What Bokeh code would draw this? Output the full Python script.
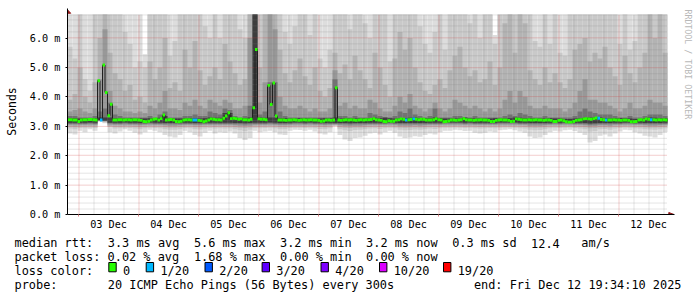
import re
import math
from bokeh.plotting import figure
from bokeh.layouts import column, row
from bokeh.models import ColumnDataSource, FixedTicker, CustomJSTickFormatter, Range1d
from bokeh.core.properties import value
from bokeh.embed import file_html
from bokeh.resources import INLINE

# ------------------------------------------------------------------ data
# time axis in hours since Tue Dec 2 19:34:10 2025 (graph end: Fri Dec 12 19:34:10 2025)
HOURS_SPAN = 240
FIRST_MIDNIGHT_H = 4 + 25 / 60 + 50 / 3600          # Wed Dec 3 00:00
DAY_LABELS = ["03 Dec", "04 Dec", "05 Dec", "06 Dec", "07 Dec",
              "08 Dec", "09 Dec", "10 Dec", "11 Dec", "12 Dec"]
Y_TICKS = [0, 1, 2, 3, 4, 5, 6]                    # milliseconds
Y_TOP = 6.8

# hourly median rtt (ms)
MEDIAN_MS = [
    3.22, 3.22, 3.21, 3.21, 3.16, 3.21, 3.22, 3.22, 3.23, 3.23, 3.22, 3.21, 4.55, 3.21, 5.08, 4.15, 3.36, 3.75, 3.21, 3.21, 3.22, 3.22, 3.21, 3.22,
    3.22, 3.21, 3.22, 3.22, 3.21, 3.20, 3.16, 3.15, 3.17, 3.21, 3.24, 3.25, 3.21, 3.26, 3.38, 3.21, 3.22, 3.23, 3.21, 3.16, 3.15, 3.17, 3.21, 3.22,
    3.22, 3.21, 3.21, 3.21, 3.20, 3.19, 3.15, 3.18, 3.21, 3.25, 3.24, 3.22, 3.22, 3.21, 3.27, 3.35, 3.46, 3.26, 3.27, 3.26, 3.24, 3.25, 3.22, 3.22,
    3.21, 3.24, 3.63, 5.61, 3.25, 3.24, 3.24, 3.22, 4.39, 3.74, 4.47, 3.35, 3.21, 3.21, 3.21, 3.20, 3.21, 3.21, 3.22, 3.21, 3.20, 3.21, 3.22, 3.21,
    3.21, 3.22, 3.21, 3.21, 3.20, 3.17, 3.18, 3.21, 3.21, 3.20, 3.21, 4.31, 3.21, 3.20, 3.21, 3.22, 3.21, 3.22, 3.21, 3.20, 3.21, 3.22, 3.21, 3.22,
    3.22, 3.23, 3.26, 3.22, 3.21, 3.20, 3.16, 3.15, 3.19, 3.17, 3.17, 3.21, 3.22, 3.25, 3.24, 3.21, 3.22, 3.23, 3.25, 3.24, 3.22, 3.24, 3.24, 3.21,
    3.21, 3.21, 3.22, 3.26, 3.22, 3.21, 3.15, 3.16, 3.18, 3.21, 3.21, 3.20, 3.21, 3.22, 3.26, 3.22, 3.21, 3.21, 3.20, 3.21, 3.21, 3.22, 3.21, 3.21,
    3.20, 3.16, 3.16, 3.20, 3.21, 3.22, 3.21, 3.21, 3.20, 3.16, 3.17, 3.25, 3.24, 3.22, 3.21, 3.21, 3.22, 3.21, 3.21, 3.22, 3.21, 3.21, 3.20, 3.21,
    3.21, 3.20, 3.16, 3.16, 3.20, 3.21, 3.19, 3.15, 3.14, 3.14, 3.16, 3.20, 3.21, 3.22, 3.25, 3.26, 3.25, 3.24, 3.26, 3.28, 3.27, 3.23, 3.22, 3.21,
    3.21, 3.21, 3.22, 3.21, 3.21, 3.20, 3.21, 3.21, 3.20, 3.15, 3.15, 3.16, 3.21, 3.22, 3.21, 3.25, 3.24, 3.22, 3.22, 3.21, 3.22, 3.21, 3.22, 3.21,
]
# hours whose packet loss was 1/20 (all other hours: 0)
LOSS_1_20_HOURS = [13, 50, 51, 135, 138, 212, 215, 233]

# smoke: 2-hour bins, nested ping-spread bands (outer -> inner), ms
SMOKE_BIN_H = 2
SMOKE_HI1 = [
    7.0, 7.0, 7.0, 7.0, 7.0, 7.0, 7.0, 7.0, 7.0, 7.0, 7.0, 7.0, 7.0, 7.0, 7.0, 5.45, 7.0, 7.0, 7.0, 7.0, 7.0, 7.0, 7.0, 7.0, 7.0, 7.0, 7.0, 7.0, 7.0, 7.0,
    7.0, 7.0, 7.0, 7.0, 7.0, 7.0, 7.0, 7.0, 7.0, 7.0, 7.0, 7.0, 7.0, 7.0, 7.0, 7.0, 7.0, 7.0, 7.0, 7.0, 7.0, 7.0, 7.0, 7.0, 7.0, 7.0, 7.0, 7.0, 7.0, 7.0,
    7.0, 7.0, 7.0, 7.0, 7.0, 7.0, 7.0, 7.0, 7.0, 7.0, 7.0, 7.0, 7.0, 7.0, 7.0, 7.0, 7.0, 7.0, 7.0, 7.0, 7.0, 7.0, 7.0, 7.0, 7.0, 6.1, 7.0, 7.0, 7.0, 7.0,
    7.0, 7.0, 7.0, 7.0, 7.0, 7.0, 7.0, 7.0, 7.0, 7.0, 7.0, 7.0, 7.0, 7.0, 7.0, 7.0, 7.0, 7.0, 7.0, 7.0, 7.0, 7.0, 7.0, 7.0, 7.0, 7.0, 7.0, 7.0, 7.0, 7.0,
]
SMOKE_HI2 = [
    5.7, 5.3, 6.9, 4.6, 4.2, 6.9, 6.9, 6.9, 6.9, 6.9, 6.9, 6.2, 5.8, 5.0, 5.2, 5.0, 6.9, 6.9, 6.9, 6.9, 5.4, 5.9, 6.9, 6.9, 6.9, 6.9, 6.9, 6.4, 6.0, 6.9,
    6.0, 6.9, 6.9, 6.9, 6.3, 6.0, 6.9, 6.9, 6.9, 6.9, 6.9, 6.9, 6.9, 6.2, 5.8, 6.4, 6.9, 6.9, 6.1, 6.9, 5.3, 5.0, 5.6, 6.9, 6.9, 6.9, 6.3, 6.9, 6.9, 6.5,
    6.0, 6.9, 6.9, 6.9, 5.2, 6.9, 6.9, 6.9, 6.9, 6.9, 6.4, 5.8, 5.5, 6.2, 6.9, 5.6, 6.9, 6.9, 6.9, 6.9, 6.5, 6.9, 6.0, 6.9, 6.9, 5.8, 6.9, 6.9, 6.9, 6.9,
    6.9, 6.9, 6.9, 5.9, 5.7, 6.9, 5.8, 6.9, 5.5, 5.4, 6.9, 6.9, 6.9, 6.9, 6.9, 6.9, 6.9, 6.9, 6.9, 6.9, 5.8, 6.9, 5.6, 5.9, 6.9, 6.9, 6.9, 6.9, 6.9, 6.9,
]
SMOKE_HI3 = [
    3.9, 4.1, 5.0, 4.0, 3.8, 4.5, 6.0, 6.9, 5.5, 4.8, 4.6, 4.2, 4.4, 3.9, 4.0, 3.8, 5.2, 4.6, 5.0, 6.0, 4.3, 4.5, 4.2, 5.6, 5.0, 5.9, 4.9, 4.4, 4.7, 5.0,
    4.6, 5.8, 5.2, 4.8, 4.4, 4.6, 6.9, 6.9, 5.0, 6.9, 6.9, 6.9, 5.6, 4.8, 4.5, 4.9, 5.3, 4.7, 4.4, 5.0, 4.2, 4.0, 4.3, 5.5, 4.8, 5.1, 4.6, 5.4, 4.9, 4.6,
    4.3, 5.5, 5.0, 4.4, 4.0, 5.3, 6.2, 5.6, 6.0, 5.0, 4.5, 4.2, 4.1, 4.4, 4.6, 4.3, 4.9, 5.4, 5.7, 5.0, 4.7, 4.9, 4.5, 4.6, 5.2, 4.4, 5.0, 6.5, 6.9, 5.5,
    6.9, 6.5, 4.9, 4.6, 4.4, 5.0, 4.5, 4.8, 4.5, 4.3, 4.6, 5.6, 5.8, 6.0, 5.2, 5.5, 5.3, 5.7, 5.0, 4.7, 4.4, 5.4, 4.8, 4.5, 5.0, 5.5, 6.9, 6.0, 6.9, 5.5,
]
SMOKE_HI4 = [
    3.5, 3.55, 3.6, 3.5, 3.45, 3.6, 4.6, 6.3, 4.2, 3.7, 3.6, 3.5, 3.5, 3.45, 3.5, 3.45, 3.7, 3.6, 3.8, 4.2, 3.6, 3.6, 3.55, 3.8, 3.7, 3.9, 3.7, 3.6, 3.9, 3.8,
    3.7, 3.9, 3.8, 3.6, 3.6, 3.7, 6.0, 6.9, 3.8, 4.5, 6.9, 6.3, 4.0, 3.7, 3.6, 3.6, 3.7, 3.6, 3.5, 3.6, 3.5, 3.5, 3.6, 4.9, 3.7, 3.8, 3.6, 3.7, 3.6, 3.6,
    3.9, 3.8, 3.6, 3.5, 3.5, 3.7, 4.0, 3.8, 4.1, 3.7, 3.6, 3.5, 3.6, 3.8, 3.6, 3.5, 3.6, 3.9, 3.8, 3.7, 3.6, 3.7, 3.6, 3.5, 3.6, 3.5, 3.6, 3.9, 4.2, 3.8,
    4.2, 4.0, 3.7, 3.6, 3.6, 3.7, 3.6, 3.6, 3.6, 3.5, 3.6, 3.8, 4.2, 4.6, 3.9, 3.9, 3.8, 3.8, 3.7, 3.6, 3.5, 3.6, 3.8, 3.6, 3.6, 3.7, 3.9, 3.8, 3.8, 3.7,
]
SMOKE_HI5 = [
    3.35, 3.35, 3.3, 3.3, 3.3, 3.35, 3.5, 3.6, 3.8, 3.4, 3.35, 3.3, 3.3, 3.3, 3.3, 3.3, 3.35, 3.3, 3.4, 3.5, 3.3, 3.3, 3.3, 3.35, 3.35, 3.4, 3.35, 3.35, 3.5, 3.45,
    3.4, 3.6, 3.55, 3.35, 3.3, 3.35, 3.7, 6.9, 3.4, 3.5, 4.5, 4.5, 3.5, 3.35, 3.3, 3.3, 3.3, 3.3, 3.3, 3.3, 3.3, 3.3, 3.3, 4.6, 3.35, 3.35, 3.3, 3.35, 3.3, 3.3,
    3.45, 3.4, 3.35, 3.3, 3.3, 3.35, 3.5, 3.45, 3.6, 3.4, 3.35, 3.3, 3.35, 3.6, 3.3, 3.3, 3.3, 3.35, 3.35, 3.3, 3.3, 3.35, 3.3, 3.3, 3.3, 3.3, 3.3, 3.35, 3.4, 3.35,
    3.45, 3.4, 3.35, 3.3, 3.3, 3.35, 3.3, 3.3, 3.3, 3.3, 3.3, 3.35, 3.5, 3.6, 3.5, 3.45, 3.4, 3.4, 3.4, 3.35, 3.3, 3.3, 3.35, 3.3, 3.3, 3.35, 3.4, 3.4, 3.4, 3.35,
]
SMOKE_HI6 = [
    3.27, 3.27, 3.26, 3.27, 3.26, 3.27, 3.3, 3.3, 3.3, 3.27, 3.27, 3.26, 3.27, 3.26, 3.26, 3.26, 3.27, 3.28, 3.29, 3.35, 3.27, 3.26, 3.26, 3.27, 3.27, 3.27, 3.26, 3.27, 3.3, 3.29,
    3.29, 3.45, 3.45, 3.3, 3.28, 3.28, 3.3, 6.9, 3.3, 3.29, 3.3, 3.3, 3.27, 3.27, 3.26, 3.26, 3.27, 3.27, 3.26, 3.26, 3.26, 3.27, 3.26, 3.3, 3.26, 3.27, 3.27, 3.26, 3.27, 3.27,
    3.28, 3.29, 3.27, 3.3, 3.27, 3.26, 3.27, 3.28, 3.29, 3.3, 3.28, 3.27, 3.27, 3.3, 3.28, 3.26, 3.26, 3.26, 3.27, 3.3, 3.27, 3.26, 3.26, 3.26, 3.26, 3.27, 3.26, 3.26, 3.27, 3.3,
    3.29, 3.27, 3.27, 3.26, 3.26, 3.26, 3.27, 3.26, 3.26, 3.25, 3.25, 3.26, 3.27, 3.29, 3.3, 3.31, 3.3, 3.27, 3.26, 3.27, 3.27, 3.27, 3.26, 3.25, 3.25, 3.26, 3.3, 3.29, 3.27, 3.27,
]
SMOKE_LO1 = [
    2.75, 2.72, 2.85, 2.8, 2.9, 2.85, 3.15, 3.1, 2.8, 2.75, 2.82, 2.9, 2.85, 2.78, 2.72, 2.8, 2.88, 2.85, 2.8, 2.7, 2.65, 2.62, 2.7, 2.85, 2.8, 2.7, 2.65, 2.78, 2.85, 2.75,
    2.8, 2.78, 2.82, 2.75, 2.6, 2.53, 2.6, 2.85, 2.8, 2.82, 2.85, 2.8, 2.72, 2.7, 2.85, 2.88, 2.87, 2.85, 2.88, 2.82, 2.75, 2.72, 2.8, 3.0, 2.7, 2.55, 2.5, 2.6, 2.62, 2.68,
    2.75, 2.78, 2.72, 2.8, 2.85, 2.78, 2.65, 2.6, 2.62, 2.66, 2.64, 2.7, 2.75, 2.72, 2.8, 2.85, 2.85, 2.88, 2.86, 2.84, 2.85, 2.78, 2.75, 2.78, 2.82, 2.8, 2.86, 2.88, 2.9, 2.86,
    2.82, 2.78, 2.65, 2.6, 2.62, 2.7, 2.8, 2.85, 2.82, 2.86, 2.88, 2.84, 2.78, 2.7, 2.45, 2.5, 2.68, 2.72, 2.65, 2.75, 2.82, 2.88, 2.86, 2.8, 2.75, 2.68, 2.65, 2.62, 2.7, 2.8,
]
SMOKE_LO2 = [
    2.92, 2.9, 2.94, 2.93, 2.95, 2.94, 3.17, 3.13, 2.98, 2.92, 2.93, 2.95, 2.94, 2.92, 2.9, 2.93, 2.95, 2.94, 2.93, 2.9, 2.88, 2.88, 2.9, 2.94, 2.93, 2.9, 2.89, 2.92, 2.94, 2.92,
    2.93, 2.92, 2.93, 2.9, 2.86, 2.84, 2.88, 2.94, 2.93, 2.94, 2.95, 2.93, 2.9, 2.9, 2.94, 2.95, 2.95, 2.94, 2.95, 2.93, 2.91, 2.9, 2.93, 3.02, 2.9, 2.86, 2.84, 2.87, 2.88, 2.9,
    2.92, 2.93, 2.91, 2.93, 2.95, 2.93, 2.88, 2.86, 2.87, 2.89, 2.88, 2.9, 2.92, 2.91, 2.93, 2.95, 2.95, 2.96, 2.95, 2.94, 2.95, 2.93, 2.92, 2.93, 2.94, 2.93, 2.95, 2.96, 2.96, 2.95,
    2.93, 2.92, 2.88, 2.86, 2.87, 2.9, 2.93, 2.95, 2.94, 2.95, 2.96, 2.94, 2.92, 2.9, 2.82, 2.84, 2.9, 2.91, 2.88, 2.92, 2.94, 2.96, 2.95, 2.93, 2.92, 2.9, 2.89, 2.88, 2.9, 2.93,
]
SMOKE_LO3 = [
    2.98, 2.97, 2.99, 2.99, 3.0, 2.99, 3.18, 3.15, 3.0, 2.98, 2.98, 3.0, 2.99, 2.98, 2.97, 2.98, 3.0, 2.99, 2.99, 2.97, 2.96, 2.96, 2.97, 2.99, 2.99, 2.97, 2.97, 2.98, 2.99, 2.98,
    2.99, 2.98, 2.99, 2.97, 2.95, 2.94, 2.96, 2.99, 2.99, 2.99, 3.0, 2.99, 2.97, 2.97, 2.99, 3.0, 3.0, 2.99, 3.0, 2.99, 2.98, 2.97, 2.99, 3.04, 2.97, 2.95, 2.94, 2.96, 2.96, 2.97,
    2.98, 2.99, 2.98, 2.99, 3.0, 2.99, 2.96, 2.95, 2.96, 2.97, 2.96, 2.97, 2.98, 2.98, 2.99, 3.0, 3.0, 3.0, 3.0, 2.99, 3.0, 2.99, 2.98, 2.99, 2.99, 2.99, 3.0, 3.0, 3.0, 3.0,
    2.99, 2.98, 2.96, 2.95, 2.96, 2.97, 2.99, 3.0, 2.99, 3.0, 3.0, 2.99, 2.98, 2.97, 2.93, 2.94, 2.97, 2.97, 2.96, 2.98, 2.99, 3.0, 3.0, 2.99, 2.98, 2.97, 2.96, 2.96, 2.97, 2.99,
]
SMOKE_LO4 = [
    3.04, 3.03, 3.04, 3.04, 3.05, 3.04, 3.19, 3.17, 3.05, 3.04, 3.04, 3.05, 3.04, 3.04, 3.03, 3.04, 3.05, 3.04, 3.04, 3.03, 3.02, 3.02, 3.03, 3.04, 3.04, 3.03, 3.03, 3.04, 3.04, 3.04,
    3.04, 3.04, 3.04, 3.03, 3.02, 3.01, 3.02, 3.04, 3.04, 3.04, 3.05, 3.04, 3.03, 3.03, 3.04, 3.05, 3.05, 3.04, 3.05, 3.04, 3.04, 3.03, 3.04, 3.06, 3.03, 3.02, 3.01, 3.02, 3.02, 3.03,
    3.04, 3.04, 3.04, 3.04, 3.05, 3.04, 3.02, 3.02, 3.02, 3.03, 3.02, 3.03, 3.04, 3.04, 3.04, 3.05, 3.05, 3.05, 3.05, 3.04, 3.05, 3.04, 3.04, 3.04, 3.04, 3.04, 3.05, 3.05, 3.05, 3.05,
    3.04, 3.04, 3.02, 3.02, 3.02, 3.03, 3.04, 3.05, 3.04, 3.05, 3.05, 3.04, 3.04, 3.03, 3.0, 3.01, 3.03, 3.03, 3.02, 3.04, 3.04, 3.05, 3.05, 3.04, 3.04, 3.03, 3.02, 3.02, 3.03, 3.04,
]
SMOKE_LO5 = [
    3.08, 3.08, 3.08, 3.08, 3.09, 3.08, 3.2, 3.18, 3.09, 3.08, 3.08, 3.09, 3.08, 3.08, 3.07, 3.08, 3.09, 3.08, 3.08, 3.07, 3.07, 3.07, 3.07, 3.08, 3.08, 3.07, 3.07, 3.08, 3.08, 3.08,
    3.08, 3.08, 3.08, 3.07, 3.07, 3.06, 3.07, 3.08, 3.08, 3.08, 3.09, 3.08, 3.07, 3.07, 3.08, 3.09, 3.09, 3.08, 3.09, 3.08, 3.08, 3.07, 3.08, 3.08, 3.07, 3.07, 3.06, 3.07, 3.07, 3.07,
    3.08, 3.08, 3.08, 3.08, 3.09, 3.08, 3.07, 3.07, 3.07, 3.07, 3.07, 3.07, 3.08, 3.08, 3.08, 3.09, 3.09, 3.09, 3.09, 3.08, 3.09, 3.08, 3.08, 3.08, 3.08, 3.08, 3.09, 3.09, 3.09, 3.09,
    3.08, 3.08, 3.07, 3.07, 3.07, 3.07, 3.08, 3.09, 3.08, 3.09, 3.09, 3.08, 3.08, 3.07, 3.05, 3.06, 3.07, 3.07, 3.07, 3.08, 3.08, 3.09, 3.09, 3.08, 3.08, 3.07, 3.07, 3.07, 3.07, 3.08,
]
SMOKE_LO6 = [
    3.12, 3.12, 3.12, 3.12, 3.13, 3.12, 3.2, 3.19, 3.12, 3.12, 3.12, 3.13, 3.12, 3.12, 3.11, 3.12, 3.13, 3.12, 3.12, 3.11, 3.11, 3.11, 3.11, 3.12, 3.12, 3.11, 3.11, 3.12, 3.12, 3.12,
    3.12, 3.12, 3.12, 3.11, 3.11, 3.1, 3.11, 3.12, 3.12, 3.12, 3.13, 3.12, 3.11, 3.11, 3.12, 3.13, 3.13, 3.12, 3.13, 3.12, 3.12, 3.11, 3.12, 3.11, 3.11, 3.11, 3.1, 3.11, 3.11, 3.11,
    3.12, 3.12, 3.12, 3.12, 3.13, 3.12, 3.11, 3.11, 3.11, 3.11, 3.11, 3.11, 3.12, 3.12, 3.12, 3.13, 3.13, 3.13, 3.13, 3.12, 3.13, 3.12, 3.12, 3.12, 3.12, 3.12, 3.13, 3.13, 3.13, 3.13,
    3.12, 3.12, 3.11, 3.11, 3.11, 3.11, 3.12, 3.13, 3.12, 3.13, 3.13, 3.12, 3.12, 3.11, 3.09, 3.1, 3.11, 3.11, 3.11, 3.12, 3.12, 3.13, 3.13, 3.12, 3.12, 3.11, 3.11, 3.11, 3.11, 3.12,
]

# legend / statistics texts
STATS_RTT = "median rtt:  3.3 ms avg  5.6 ms max  3.2 ms min  3.2 ms now  0.3 ms sd  12.4   am/s"
STATS_LOSS = "packet loss: 0.02 % avg  1.68 % max  0.00 % min  0.00 % now"
LOSS_TITLE = "loss color:"
LOSS_LEGEND = ["0", "1/20", "2/20", "3/20", "4/20", "10/20", "19/20"]
LOSS_COLORS = ["#26ff00", "#00b8ff", "#0059ff", "#5e00ff", "#7e00ff", "#dd00ff", "#ff0000"]
PROBE_TEXT = "probe:       20 ICMP Echo Pings (56 Bytes) every 300s"
END_TEXT = "end: Fri Dec 12 19:34:10 2025"
WATERMARK = "RRDTOOL / TOBI OETIKER"

# ------------------------------------------------------------------ layout / style
W, H = 697, 297
MAIN_W, MAIN_H = 678, 232                  # main chart canvas
FL, FR, FT, FB = 67, 674, 8, 215           # main frame edges (canvas px)
PX_H = 2.5                                 # px per hour
PX_MS = 201 / Y_TOP                        # px per ms (6.8 ms -> y=14)
MONO = "DejaVu Sans Mono"
SMOKE_COLORS = ["#dddddd", "#c9c9c9", "#b3b3b3", "#989898", "#727272", "#3d3d3d"]
MEDIAN_HALF = 0.05                         # half thickness of the loss-coloured median band (ms)
ARROW = "#901818"
LEG_SHIFT = 2.7                            # page offset of the legend strip

p = figure(width=MAIN_W, height=MAIN_H,
           x_range=Range1d(0, (FR - FL) / PX_H), y_range=Range1d(0, (FB - FT) / PX_MS),
           output_backend="svg", toolbar_location=None,
           min_border_left=FL, min_border_right=MAIN_W - FR,
           min_border_top=FT, min_border_bottom=MAIN_H - FB)
p.outline_line_color = None
p.background_fill_color = "white"
p.border_fill_color = "white"
p.xgrid.visible = False
p.ygrid.visible = False

# smoke bands
his = [SMOKE_HI1, SMOKE_HI2, SMOKE_HI3, SMOKE_HI4, SMOKE_HI5, SMOKE_HI6]
los = [SMOKE_LO1, SMOKE_LO2, SMOKE_LO3, SMOKE_LO4, SMOKE_LO5, SMOKE_LO6]
nb = len(SMOKE_HI1)
for hi, lo, col in zip(his, los, SMOKE_COLORS):
    src = ColumnDataSource(dict(
        left=[i * SMOKE_BIN_H for i in range(nb)],
        right=[(i + 1) * SMOKE_BIN_H for i in range(nb)],
        bottom=lo,
        top=[min(v, Y_TOP) for v in hi]))
    p.quad(left="left", right="right", bottom="bottom", top="top", source=src,
           fill_color=col, line_color=None)


# grid (dotted, drawn over the smoke, snapped to pixel centres like rrdtool)
def snap_x(h):
    return (math.floor(FL + h * PX_H) + 0.5 - FL) / PX_H


def snap_y(v):
    return (FB - (math.floor(FB - v * PX_MS) + 0.5)) / PX_MS


midnights = [FIRST_MIDNIGHT_H + 24 * i for i in range(len(DAY_LABELS))]
noons = [m + 12 for m in midnights]
six_h = [FIRST_MIDNIGHT_H + 6 * k for k in range(40) if k % 4 != 0 and FIRST_MIDNIGHT_H + 6 * k < HOURS_SPAN]
y_minor = [round(0.2 * k, 1) for k in range(int(Y_TOP / 0.2) + 1) if k % 5 != 0]
gx_minor = [snap_x(h) for h in six_h]
gx_major = [snap_x(h) for h in midnights]
gy_minor = [snap_y(v) for v in y_minor]
gy_major = [snap_y(v) for v in Y_TICKS[1:]]
MINOR_GRID = dict(line_color="#7f7f7f", line_alpha=0.4, line_dash="1 1", line_width=1)
MAJOR_GRID = dict(line_color="#d04040", line_alpha=0.5, line_dash="1 1", line_width=1)
p.segment(x0=gx_minor, y0=[0] * len(gx_minor), x1=gx_minor, y1=[Y_TOP] * len(gx_minor), **MINOR_GRID)
p.segment(x0=[0] * len(gy_minor), y0=gy_minor, x1=[HOURS_SPAN] * len(gy_minor), y1=gy_minor, **MINOR_GRID)
p.segment(x0=gx_major, y0=[0] * len(gx_major), x1=gx_major, y1=[Y_TOP] * len(gx_major), **MAJOR_GRID)
p.segment(x0=[0] * len(gy_major), y0=gy_major, x1=[HOURS_SPAN] * len(gy_major), y1=gy_major, **MAJOR_GRID)

# median line (black steps) and loss coloured median band
hours = list(range(len(MEDIAN_MS)))
p.step(x=hours + [len(MEDIAN_MS)], y=MEDIAN_MS + [MEDIAN_MS[-1]], mode="after",
       line_color="#202020", line_width=1)
mcol = [LOSS_COLORS[1] if h in LOSS_1_20_HOURS else LOSS_COLORS[0] for h in hours]
msrc = ColumnDataSource(dict(left=hours, right=[h + 1 for h in hours],
                             bottom=[m - MEDIAN_HALF for m in MEDIAN_MS],
                             top=[m + MEDIAN_HALF for m in MEDIAN_MS], color=mcol))
p.quad(left="left", right="right", bottom="bottom", top="top", source=msrc,
       fill_color="color", line_color=None)

# axis arrow heads (the part inside the graph area)
p.patch(x=[0, 0, 3.2 / PX_H], y=[(FB - 9.3) / PX_MS, (FB - 12.8) / PX_MS, (FB - 12.8) / PX_MS],
        fill_color=ARROW, line_color=ARROW)
p.patch(x=[(673.5 - FL) / PX_H, (668.3 - FL) / PX_H, (668.3 - FL) / PX_H], y=[0, 0, 2.0 / PX_MS],
        fill_color=ARROW, line_color=ARROW)

# axes
p.xaxis.ticker = FixedTicker(ticks=noons, minor_ticks=midnights)
p.xaxis.formatter = CustomJSTickFormatter(args=dict(labels=DAY_LABELS, t0=noons[0]), code="""
    const i = Math.round((tick - t0) / 24);
    return (i >= 0 && i < labels.length) ? labels[i] : "";
""")
p.xaxis.major_tick_line_color = None
p.xaxis.major_tick_out = 0
p.xaxis.major_tick_in = 0
p.xaxis.minor_tick_line_color = "#d98080"
p.xaxis.minor_tick_out = 2
p.xaxis.minor_tick_in = 0
p.xaxis.major_label_standoff = 2

p.yaxis.ticker = FixedTicker(ticks=Y_TICKS, minor_ticks=[])
p.yaxis.formatter = CustomJSTickFormatter(code="return tick.toFixed(1) + ' m';")
p.yaxis.major_tick_out = 2
p.yaxis.major_tick_in = 0
p.yaxis.minor_tick_line_color = None
p.yaxis.major_label_standoff = 5
p.yaxis.axis_label = "Seconds"
p.yaxis.axis_label_text_font = MONO
p.yaxis.axis_label_text_font_size = "11.5px"
p.yaxis.axis_label_text_font_style = "normal"
p.yaxis.axis_label_text_color = "#000000"
p.yaxis.axis_label_standoff = 8

for ax in (p.xaxis[0], p.yaxis[0]):
    ax.axis_line_color = "#000000"
    ax.major_label_text_font = MONO
    ax.major_label_text_font_size = "10.2px"
    ax.major_label_text_color = "#000000"
p.yaxis.major_tick_line_color = "#000000"


def blank(fig):
    fig.outline_line_color = None
    fig.background_fill_color = "white"
    fig.border_fill_color = "white"
    fig.xaxis.visible = False
    fig.yaxis.visible = False
    fig.xgrid.visible = False
    fig.ygrid.visible = False


# right strip with the rrdtool watermark (page px coordinates, y downward)
side = figure(width=W - MAIN_W, height=MAIN_H, x_range=Range1d(MAIN_W, W), y_range=Range1d(MAIN_H, 0),
              output_backend="svg", toolbar_location=None,
              min_border_left=0, min_border_right=0, min_border_top=0, min_border_bottom=0)
blank(side)
side.text(x=[687.5], y=[1], text=[WATERMARK], angle=-math.pi / 2,
          text_font=value(MONO), text_font_size=value("8.3px"), text_color="#b8b8b8",
          text_align=value("left"), text_baseline=value("middle"))

# legend area below the chart (page px coordinates, y downward)
leg = figure(width=W, height=H - MAIN_H, x_range=Range1d(0, W),
             y_range=Range1d(H + LEG_SHIFT, MAIN_H + LEG_SHIFT),
             output_backend="svg", toolbar_location=None,
             min_border_left=0, min_border_right=0, min_border_top=0, min_border_bottom=0)
blank(leg)

CW = 7.175           # monospace advance (px)
X0 = 14.0
ROW_Y = [245.3, 259.1, 272.9, 286.7]
tx, ty, tt = [], [], []


def mono_row(s, y):
    for m in re.finditer(r"\S+(?: \S+)*", s):
        tx.append(X0 + m.start() * CW)
        ty.append(y)
        tt.append(m.group())


mono_row(STATS_RTT, ROW_Y[0])
mono_row(STATS_LOSS, ROW_Y[1])
mono_row(LOSS_TITLE, ROW_Y[2])
mono_row(PROBE_TEXT, ROW_Y[3])

LOSS_BOX_X = [108.3, 145.7, 204.5, 261.6, 320.5, 379.0, 443.0]
for bx, txt in zip(LOSS_BOX_X, LOSS_LEGEND):
    tx.append(bx + 14.2)
    ty.append(ROW_Y[2])
    tt.append(txt)

leg.text(x=tx, y=ty, text=tt, text_font=value(MONO), text_font_size=value("11.9px"),
         text_color="#000000", text_align=value("left"), text_baseline=value("alphabetic"))
leg.text(x=[681], y=[ROW_Y[3]], text=[END_TEXT], text_font=value(MONO), text_font_size=value("11.9px"),
         text_color="#000000", text_align=value("right"), text_baseline=value("alphabetic"))
leg.quad(left=LOSS_BOX_X, right=[b + 7.4 for b in LOSS_BOX_X],
         top=[264.7] * len(LOSS_BOX_X), bottom=[274.0] * len(LOSS_BOX_X),
         fill_color=LOSS_COLORS, line_color="#000000", line_width=1)

layout = column(row(p, side), leg)
open("out.html", "w").write(file_html(layout, INLINE))
